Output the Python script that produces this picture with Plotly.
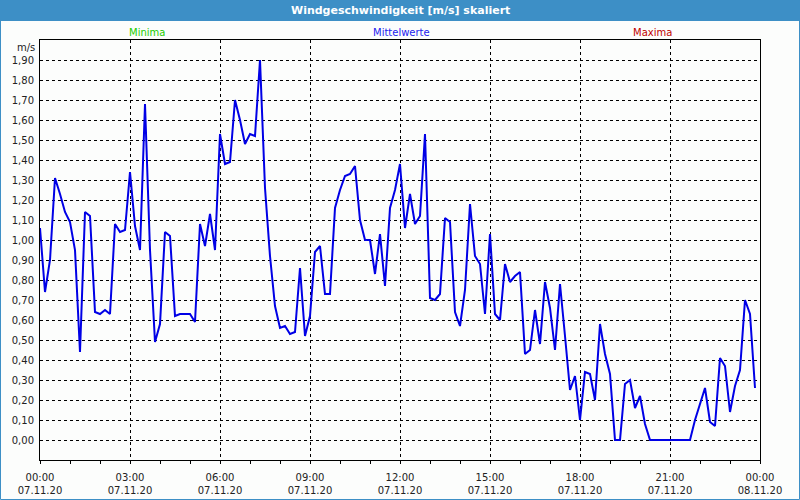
import pandas as pd
import plotly.graph_objects as go

# ---- data ----
start_time = "2020-11-07 00:00"
interval = "10min"
wind_values = [
    1.06, 0.74, 0.90, 1.31, 1.23, 1.14, 1.09, 0.95, 0.44, 1.14,
    1.12, 0.64, 0.63, 0.65, 0.63, 1.08, 1.04, 1.05, 1.34, 1.07,
    0.95, 1.68, 0.95, 0.49, 0.58, 1.04, 1.02, 0.62, 0.63, 0.63,
    0.63, 0.59, 1.08, 0.97, 1.13, 0.95, 1.53, 1.38, 1.39, 1.70,
    1.60, 1.48, 1.53, 1.52, 1.90, 1.26, 0.92, 0.67, 0.56, 0.57,
    0.53, 0.54, 0.86, 0.52, 0.62, 0.94, 0.97, 0.73, 0.73, 1.16,
    1.25, 1.32, 1.33, 1.37, 1.10, 1.00, 1.00, 0.83, 1.03, 0.77,
    1.16, 1.25, 1.38, 1.06, 1.23, 1.08, 1.12, 1.53, 0.71, 0.70,
    0.73, 1.11, 1.09, 0.64, 0.57, 0.75, 1.18, 0.92, 0.88, 0.63,
    1.03, 0.63, 0.60, 0.88, 0.79, 0.82, 0.84, 0.43, 0.45, 0.65,
    0.48, 0.79, 0.66, 0.45, 0.78, 0.52, 0.25, 0.32, 0.10, 0.34,
    0.33, 0.20, 0.58, 0.43, 0.33, 0.00, 0.00, 0.28, 0.30, 0.16,
    0.22, 0.08, 0.00, 0.00, 0.00, 0.00, 0.00, 0.00, 0.00, 0.00,
    0.00, 0.10, 0.18, 0.26, 0.09, 0.07, 0.41, 0.37, 0.14, 0.27,
    0.35, 0.70, 0.63, 0.26,
]
times = pd.date_range(start_time, periods=len(wind_values), freq=interval)
y_ticks = [i / 10 for i in range(20)]
x_range = ["2020-11-07 00:00", "2020-11-08 00:00"]
title_text = "Windgeschwindigkeit [m/s] skaliert"
series_labels = ["Minima", "Mittelwerte", "Maxima"]
series_colors = ["#22cc00", "#2222ee", "#c00000"]
unit_label = "m/s"

FONT = "DejaVu Sans"
BAR = "#3d8fc6"

# plot area: px 40..760, py 40..460
def px(x):
    return (x - 40) / 720.0

def py(y):
    return (460 - y) / 420.0

fig = go.Figure()
fig.add_trace(go.Scatter(
    x=times, y=wind_values, mode="lines",
    line=dict(color="#0000e6", width=2),
    showlegend=False, hoverinfo="skip",
))

shapes = [
    dict(type="rect", xref="paper", yref="paper",
         x0=px(-1), x1=px(801), y0=py(21), y1=py(-1),
         fillcolor=BAR, line=dict(width=0), layer="below"),
    dict(type="rect", xref="paper", yref="paper",
         x0=px(0.5), x1=px(799.5), y0=py(499.5), y1=py(0.5),
         fillcolor="rgba(0,0,0,0)", line=dict(color=BAR, width=1)),
]

annotations = [
    dict(text="<b>" + title_text + "</b>", xref="paper", yref="paper",
         x=px(400), y=py(10.5), xanchor="center", yanchor="middle",
         showarrow=False, font=dict(family=FONT, size=11, color="white")),
    dict(text=unit_label, xref="paper", yref="paper",
         x=px(37), y=py(47), xanchor="right", yanchor="middle",
         showarrow=False, font=dict(family=FONT, size=10, color="#222")),
]
for lbl, col, cx in zip(series_labels, series_colors, [147, 401, 652]):
    annotations.append(dict(text=lbl, xref="paper", yref="paper",
                            x=px(cx), y=py(32), xanchor="center", yanchor="middle",
                            showarrow=False, font=dict(family=FONT, size=10, color=col)))

fig.update_layout(
    width=800, height=500,
    margin=dict(l=40, r=40, t=40, b=40),
    paper_bgcolor="#fcfdfc", plot_bgcolor="#fcfdfc",
    separators=",.",
    font=dict(family=FONT, size=10, color="#222"),
    shapes=shapes, annotations=annotations,
    xaxis=dict(
        type="date", range=x_range, automargin=False,
        tick0="2020-11-07", dtick=3 * 3600000,
        tickformat="%H:%M<br>%d.%m.%y",
        ticks="outside", ticklen=3, tickcolor="black",
        ticklabelstandoff=5,
        showline=True, linecolor="black", linewidth=1, mirror=True,
        showgrid=True, gridcolor="black", gridwidth=1, griddash="3px,3px",
        minor=dict(dtick=3600000, ticks="outside", ticklen=3, tickcolor="black", showgrid=False),
        zeroline=False,
        tickfont=dict(family=FONT, size=10, color="#222"),
    ),
    yaxis=dict(
        range=[-0.1, 2.0], automargin=False,
        tickvals=y_ticks, tickformat=".2f",
        ticks="", ticklabelstandoff=3,
        showline=True, linecolor="black", linewidth=1, mirror=True,
        showgrid=True, gridcolor="black", gridwidth=1, griddash="3px,3px",
        zeroline=False,
        tickfont=dict(family=FONT, size=10, color="#222"),
    ),
)

fig.write_html("out.html")
